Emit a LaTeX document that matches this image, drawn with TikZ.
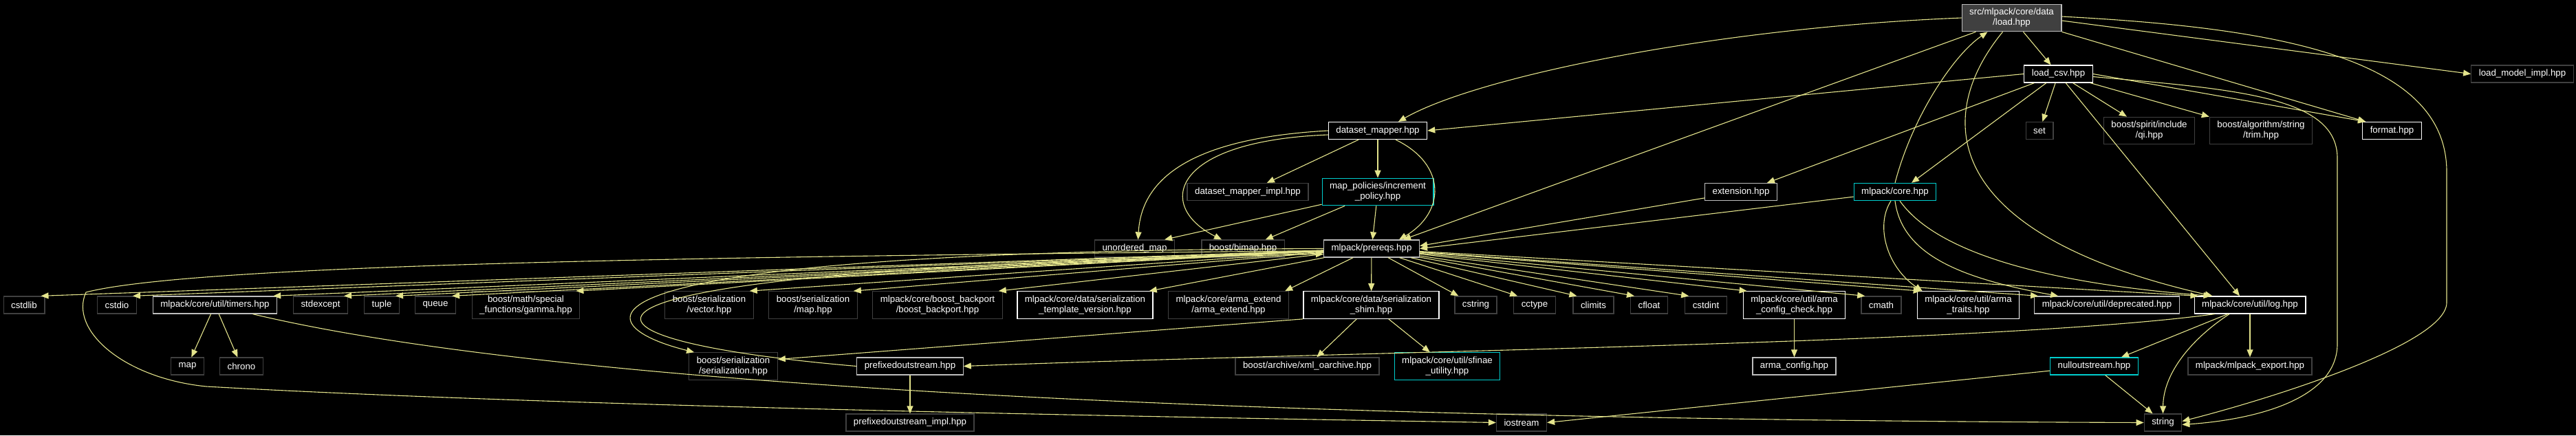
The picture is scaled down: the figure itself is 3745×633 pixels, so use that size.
\documentclass[tikz,border=0pt]{standalone}
\usepackage{fontspec}
\setmainfont{Liberation Sans}
\usetikzlibrary{arrows.meta}
\definecolor{edgeyellow}{RGB}{228,228,140}
\definecolor{linkcyan}{RGB}{0,205,205}
\definecolor{darkline}{RGB}{64,64,64}
\definecolor{softline}{RGB}{190,190,190}

\begin{document}
\begin{tikzpicture}[x=1pt, y=-1pt,
  box/.style={draw, rectangle, fill=black, text=white, align=center, inner xsep=11pt, inner ysep=6pt, minimum height=25pt, line width=1.3pt, font=\fontsize{13.3}{15}\selectfont},
  root/.style={box, fill=darkline, draw=softline},
  doc/.style={box, draw=white},
  soft/.style={box, draw=softline},
  ext/.style={box, draw=darkline},
  link/.style={box, draw=linkcyan},
  line/.style={draw=edgeyellow, line width=1.1pt, -{Triangle[length=11pt, width=9pt]}}
]
\fill[black] (0,0) rectangle (3745,633);
\useasboundingbox (0,0) rectangle (3745,633);

\node[root] (load) at (2924.5,26) {src/mlpack/core/data\\/load.hpp};
\node[ext] (lmi) at (3667,107.5) {load\_model\_impl.hpp};
\node[doc] (lcsv) at (2992.5,107.5) {load\_csv.hpp};

\node[doc] (dsm) at (2003,190) {dataset\_mapper.hpp};
\node[ext] (set) at (2965,190) {set};
\node[ext] (qi) at (3124.5,190) {boost/spirit/include\\/qi.hpp};
\node[ext] (trim) at (3287,190) {boost/algorithm/string\\/trim.hpp};
\node[doc] (format) at (3477.5,190) {format.hpp};

\node[ext] (dsimpl) at (1814,279) {dataset\_mapper\_impl.hpp};
\node[link] (policy) at (2003,279) {map\_policies/increment\\\_policy.hpp};
\node[soft] (extension) at (2531,279) {extension.hpp};
\node[link] (core) at (2755,279) {mlpack/core.hpp};

\node[ext] (umap) at (1649.5,361.5) {unordered\_map};
\node[ext] (bimap) at (1807,361.5) {boost/bimap.hpp};
\node[soft] (prereqs) at (1994,361.5) {mlpack/prereqs.hpp};

\node[ext] (cstdlib) at (35,443.5) {cstdlib};
\node[ext] (cstdio) at (170,443.5) {cstdio};
\node[soft] (timers) at (312.5,443.5) {mlpack/core/util/timers.hpp};
\node[ext] (stdexcept) at (466,443.5) {stdexcept};
\node[ext] (tuple) at (555,443.5) {tuple};
\node[ext] (queue) at (633,443.5) {queue};
\node[ext] (gamma) at (764.5,443.5) {boost/math/special\\\_functions/gamma.hpp};
\node[ext] (vector) at (1031,443.5) {boost/serialization\\/vector.hpp};
\node[ext] (sermap) at (1182,443.5) {boost/serialization\\/map.hpp};
\node[ext] (backport) at (1363,443.5) {mlpack/core/boost\_backport\\/boost\_backport.hpp};
\node[doc] (stv) at (1577.5,443.5) {mlpack/core/data/serialization\\\_template\_version.hpp};
\node[ext] (armaext) at (1786,443.5) {mlpack/core/arma\_extend\\/arma\_extend.hpp};
\node[doc] (shim) at (1993.5,443.5) {mlpack/core/data/serialization\\\_shim.hpp};
\node[ext] (cstring) at (2145.5,443.5) {cstring};
\node[ext] (cctype) at (2231,443.5) {cctype};
\node[ext] (climits) at (2316.5,443.5) {climits};
\node[ext] (cfloat) at (2397.5,443.5) {cfloat};
\node[ext] (cstdint) at (2480,443.5) {cstdint};
\node[doc] (armacheck) at (2608.5,443.5) {mlpack/core/util/arma\\\_config\_check.hpp};
\node[ext] (cmath) at (2735,443.5) {cmath};
\node[doc] (armatraits) at (2861.5,443.5) {mlpack/core/util/arma\\\_traits.hpp};
\node[soft] (deprecated) at (3063,443.5) {mlpack/core/util/deprecated.hpp};
\node[doc] (log) at (3271,443.5) {mlpack/core/util/log.hpp};

\node[ext] (map) at (272.5,532.5) {map};
\node[ext] (chrono) at (351,532.5) {chrono};
\node[ext] (serial) at (1066,532.5) {boost/serialization\\/serialization.hpp};
\node[soft] (prefixed) at (1323,532.5) {prefixedoutstream.hpp};
\node[ext] (xml) at (1900.5,532.5) {boost/archive/xml\_oarchive.hpp};
\node[link] (sfinae) at (2104,532.5) {mlpack/core/util/sfinae\\\_utility.hpp};
\node[soft] (armaconf) at (2608.5,532.5) {arma\_config.hpp};
\node[link] (nullout) at (3044.5,532.5) {nulloutstream.hpp};
\node[ext] (export) at (3271,532.5) {mlpack/mlpack\_export.hpp};

\node[ext] (prefimpl) at (1323,614.5) {prefixedoutstream\_impl.hpp};
\node[ext] (iostream) at (2212,614.5) {iostream};
\node[ext] (string) at (3144.5,614.5) {string};

\draw[line] (load.west) .. controls (2500,40) and (2150,110) .. ([xshift=30pt]dsm.north);
\draw[line] (load) -- (lcsv);
\draw[line] (load.south east) -- ([xshift=5pt]format.north west);
\draw[line] ([yshift=-4pt]load.east) -- (lmi.west);
\draw[line] ([yshift=2pt]load.east) .. controls (3300,40) and (3557,80) .. (3557,250) -- (3557,440) .. controls (3557,500) and (3300,580) .. ([yshift=2pt]string.east);
\draw[line] ([xshift=-52pt]load.south) -- ([xshift=46pt]prereqs.north);
\draw[line] ([xshift=-13pt]load.south) .. controls (2810,170) and (2820,340) .. ([xshift=27pt]log.north west);
\draw[line] (core.north) .. controls (2780,170) and (2840,80) .. ([xshift=-35pt]load.south);

\draw[line] (lcsv.west) -- (dsm.east);
\draw[line] (lcsv) -- (set);
\draw[line] (lcsv) -- (qi);
\draw[line] (lcsv) -- (trim.north west);
\draw[line] (lcsv.east) -- ([xshift=5pt]format.north west);
\draw[line] ([yshift=-4pt]lcsv.east) .. controls (3250,130) and (3398,140) .. (3398,230) -- (3398,500) .. controls (3398,580) and (3280,610) .. ([yshift=-3pt]string.east);
\draw[line] (lcsv) -- ([xshift=38pt]extension.north);
\draw[line] (lcsv) -- ([xshift=24pt]core.north);
\draw[line] (lcsv) -- ([xshift=-15pt]log.north);

\draw[line] (dsm) -- (dsimpl);
\draw[line] (dsm) -- (policy);
\draw[line] (dsm.west) .. controls (1750,200) and (1660,250) .. ([xshift=5pt]umap.north);
\draw[line] ([yshift=-6pt]dsm.west) .. controls (1700,205) and (1680,300) .. ([xshift=-31pt]bimap.north);
\draw[line] ([xshift=26pt]dsm.south) .. controls (2105,240) and (2100,310) .. ([xshift=40pt]prereqs.north);

\draw[line] (policy) -- ([xshift=-15pt]umap.north east);
\draw[line] (policy) -- ([xshift=-28pt]bimap.north east);
\draw[line] (policy) -- (prereqs);
\draw[line] (extension) -- ([yshift=4pt]prereqs.east);
\draw[line] (core) -- (prereqs.east);

\foreach \n in {cstdlib, cstdio, timers, stdexcept, tuple, queue, gamma, vector, sermap, backport, stv, armaext}
  \draw[line] (prereqs) -- ([xshift=-6pt]\n.north east);
\foreach \n in {cstring, cctype, climits, cfloat, cstdint, armacheck, cmath, armatraits, deprecated, log}
  \draw[line] (prereqs) -- ([xshift=6pt]\n.north west);
\draw[line] (prereqs) -- (shim);
\draw[line] (prereqs.west) .. controls (800,365) and (840,470) .. ([xshift=8pt]serial.north west);
\draw[line] ([yshift=-3pt]prereqs.west) .. controls (1200,372) and (300,380) .. (125,425) .. controls (100,480) and (180,550) .. (300,562) .. controls (800,590) and (1600,605) .. (iostream.west);
\draw[line] (prefixed.west) .. controls (750,490) and (750,390) .. ([yshift=-8pt]prereqs.west);

\draw[line] (timers) -- (map);
\draw[line] (timers) -- (chrono);
\draw[line] (timers) .. controls (800,560) and (1800,610) .. (string.west);

\draw[line] (shim) -- (xml);
\draw[line] (shim) -- (sfinae);
\draw[line] (shim.south west) -- ([yshift=10pt]serial.east);
\draw[line] (armacheck) -- (armaconf);
\draw[line] (prefixed) -- (prefimpl);

\draw[line] ([xshift=-6pt]core.south) .. controls (2725,330) and (2745,390) .. ([xshift=8pt]armatraits.north west);
\draw[line] (core.south) .. controls (2765,370) and (2850,405) .. ([xshift=35pt]deprecated.north west);
\draw[line] ([xshift=7pt]core.south) .. controls (2810,360) and (2950,410) .. ([xshift=25pt]log.north west);

\draw[line] ([xshift=30pt]log.south west) .. controls (2900,500) and (2000,510) .. (prefixed.east);
\draw[line] (log) -- ([xshift=-25pt]nullout.north east);
\draw[line] ([xshift=-30pt]log.south) .. controls (3190,490) and (3145,540) .. (string.north);
\draw[line] (log) -- (export);
\draw[line] (nullout) -- ([xshift=-15pt]string.north);
\draw[line] (nullout) -- (iostream.east);
\end{tikzpicture}
\end{document}
